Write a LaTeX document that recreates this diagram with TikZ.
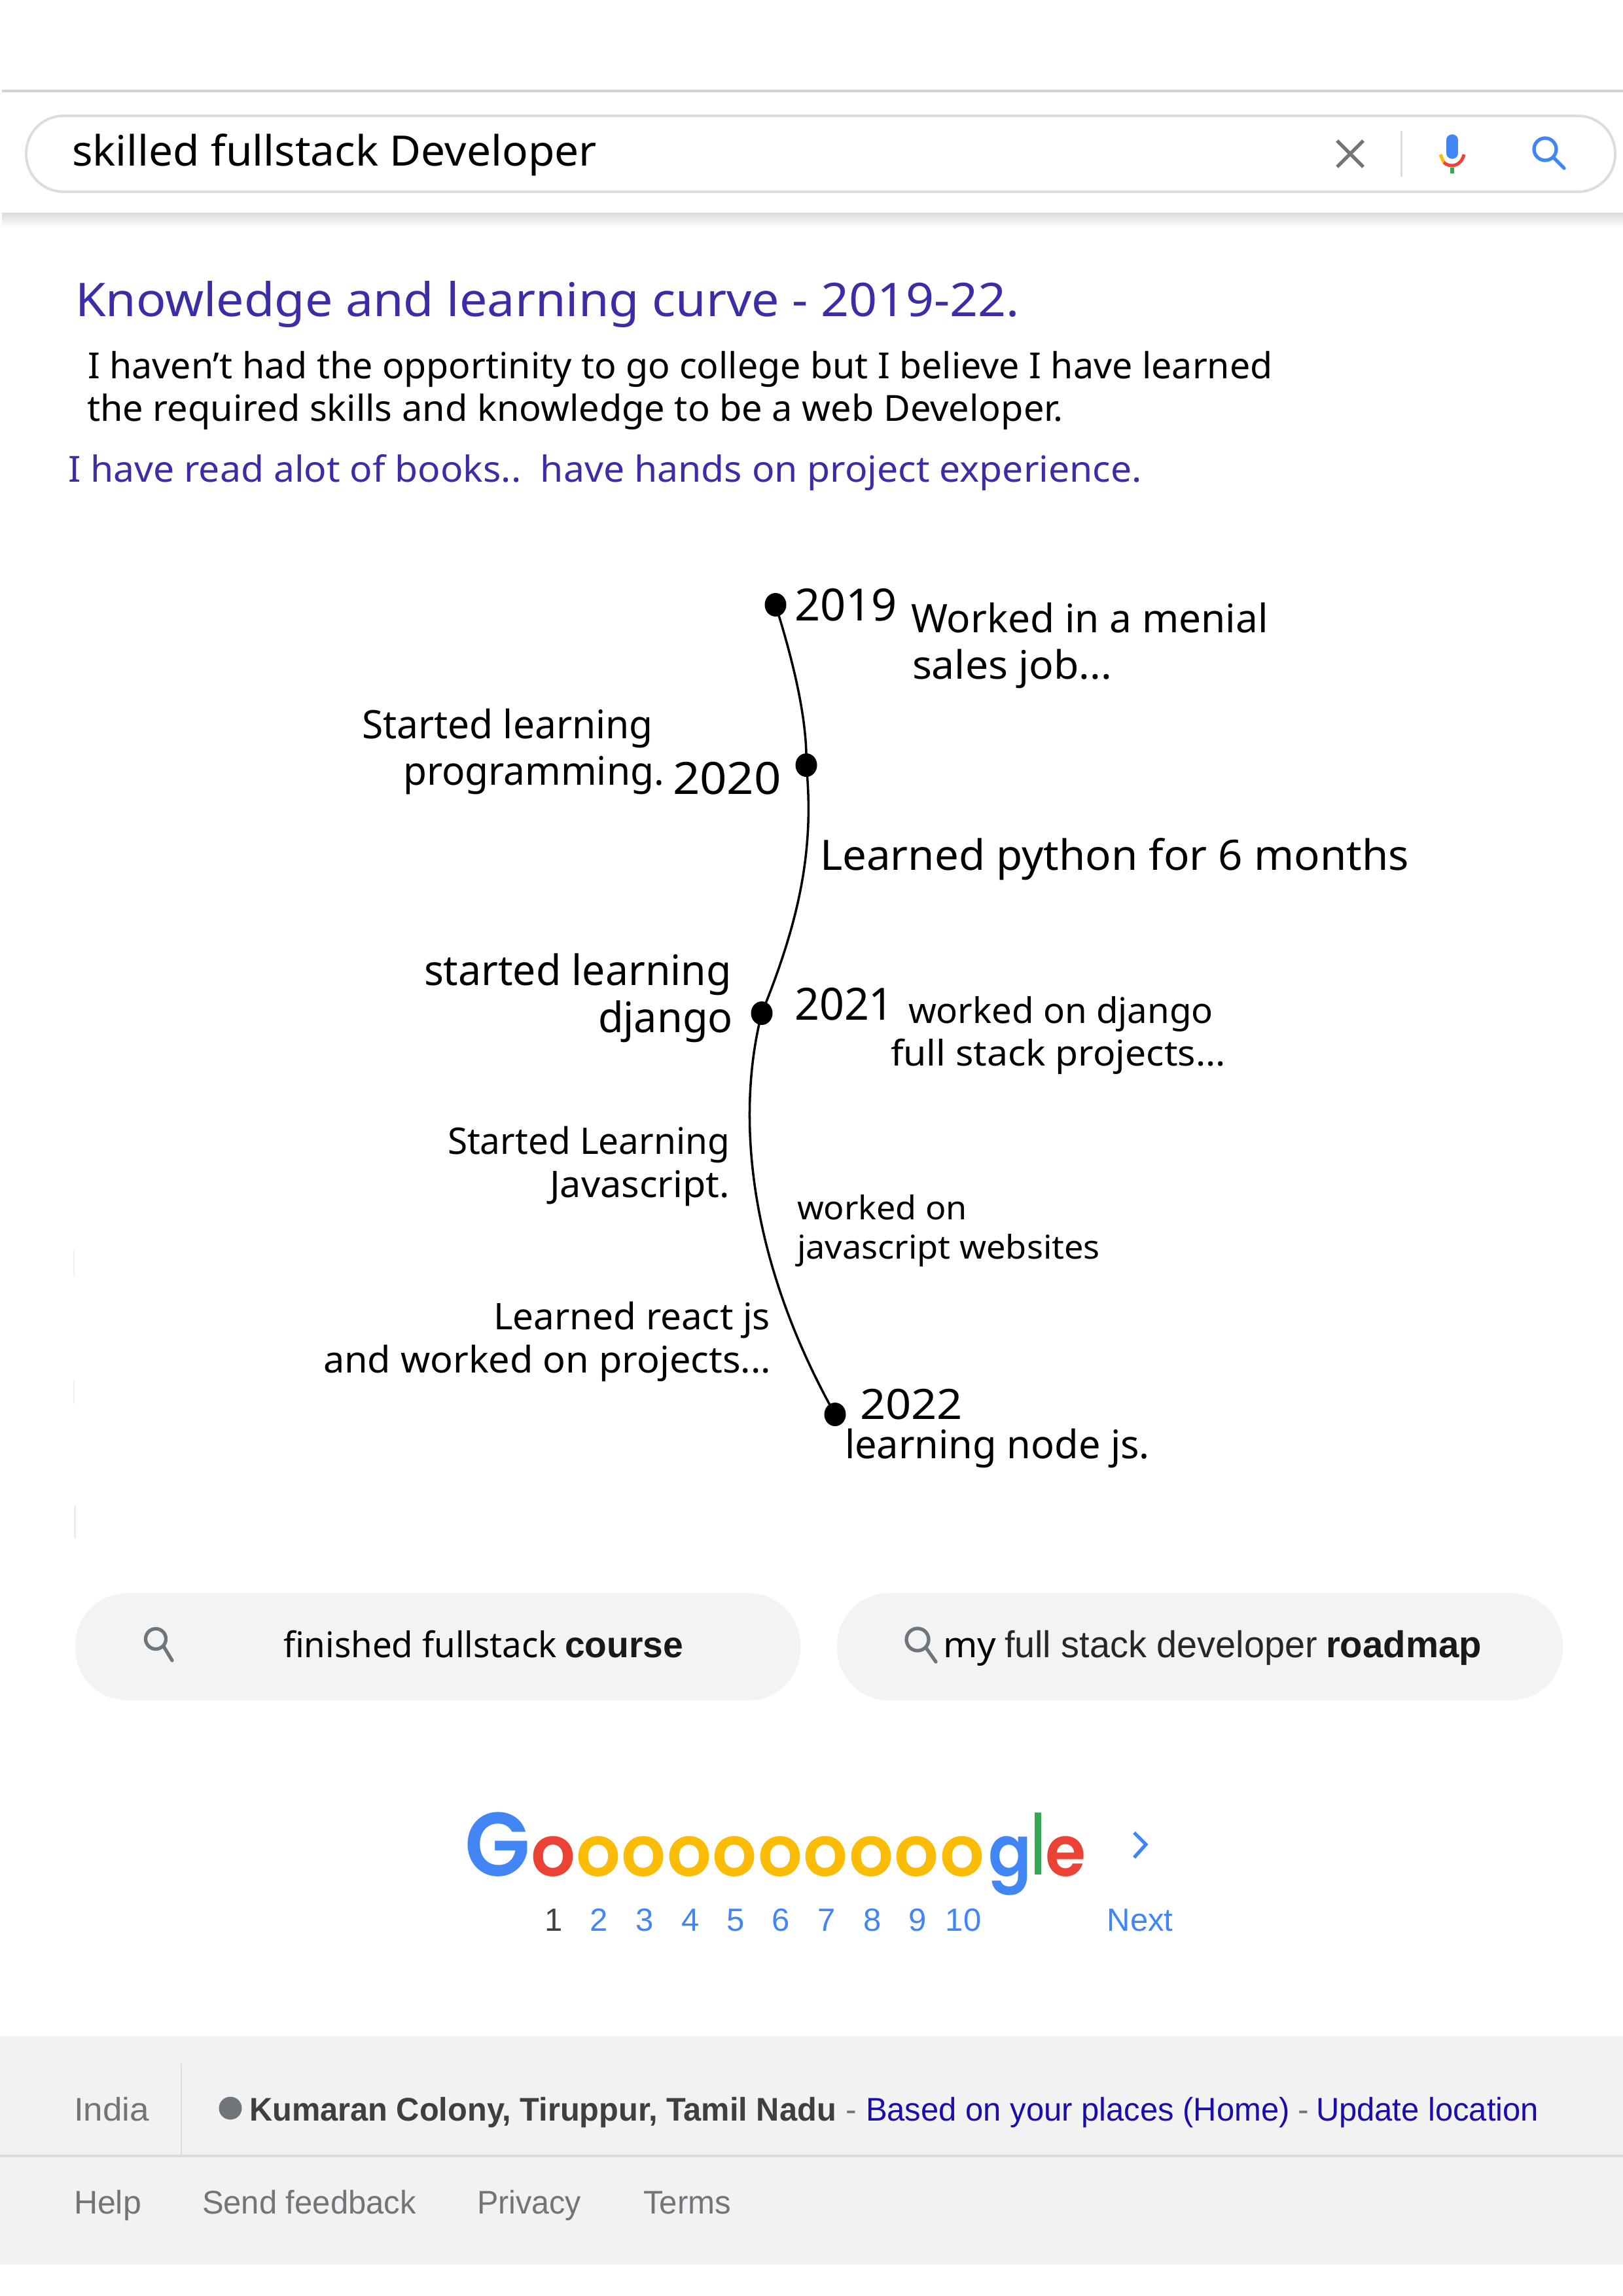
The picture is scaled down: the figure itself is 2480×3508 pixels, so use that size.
\documentclass[tikz,border=0pt]{standalone}
\usepackage{graphicx}
\usepackage{fontspec}
\setmainfont{Noto Sans}
\newfontfamily\arial{Liberation Sans}
\newfontfamily\logo{Poppins SemiBold}
\usetikzlibrary{calc,shapes.geometric}
\definecolor{titleblue}{HTML}{3B2DA6}
\definecolor{gblue}{HTML}{4285F4}
\definecolor{gred}{HTML}{EA4335}
\definecolor{gyellow}{HTML}{FBBC05}
\definecolor{ggreen}{HTML}{34A853}
\definecolor{ggrey}{HTML}{70757A}
\definecolor{chipfill}{HTML}{F1F3F4}
\definecolor{footfill}{HTML}{F2F2F2}
\definecolor{rulecol}{HTML}{DADCE0}
\definecolor{linkblue}{HTML}{1A0DAB}
\definecolor{darktxt}{HTML}{3C4043}
\newlength\fitwd
% #1 target width in px, #2 text
\newcommand{\fitw}[2]{\settowidth\fitwd{#2}\pgfmathsetmacro\fitr{#1*0.56906/\fitwd}\scalebox{\fitr}[1]{#2}}
\newcommand{\fs}[1]{\pgfmathsetmacro\fsz{#1*0.56906}\fontsize{\fsz pt}{\fsz pt}\selectfont}
\tikzset{
  txt/.style={inner sep=0pt,outer sep=0pt,anchor=base west},
  logoletter/.style={inner sep=0pt,outer sep=0pt,anchor=base},
  tldot/.style={ellipse,fill=black,inner sep=0pt,minimum width=0.66cm,minimum height=0.72cm},
  curve/.style={line width=2pt,black},
  lens/.style={line width=3pt,ggrey,line cap=round},
}
\begin{document}
\begin{tikzpicture}[x=0.02cm,y=-0.02cm]
\useasboundingbox (0,0) rectangle (2480,3508);
\fill[white] (0,0) rectangle (2480,3508);
% header
\fill[rulecol!90!gray] (3,137) rectangle (2480,141);
\shade[top color=black!14,bottom color=white] (3,325) rectangle (2480,348);
\draw[rulecol,line width=2.2pt,rounded corners=1.14cm] (40,177) rectangle (2468,293);
\node[txt,font=\fs{64}] (search) at (110,254) {\fitw{802}{skilled fullstack Developer}};
% search icons
\coordinate (xa) at (2043,215); \coordinate (xb) at (2083,255);
\coordinate (xc) at (2043,255); \coordinate (xd) at (2083,215);
\draw[ggrey,line width=3pt] (xa) -- (xb) (xc) -- (xd);
\coordinate (diva) at (2141,200); \coordinate (divb) at (2141,270);
\draw[rulecol,line width=1.7pt] (diva) -- (divb);
\coordinate (mica) at (2219,214); \coordinate (micb) at (2219,234);
\draw[gblue,line width=10pt,line cap=round] (mica) -- (micb);
\draw[gyellow,line width=2.8pt] (2201,236) -- (2206,248);
\draw[gred,line width=2.8pt] (2206,248) .. controls (2214,256) and (2232,256) .. (2237,236);
\coordinate (stema) at (2219,256); \coordinate (stemb) at (2219,265);
\draw[ggreen,line width=3pt] (stema) -- (stemb);
\node[circle,draw=gblue,line width=3pt,minimum width=0.68cm,inner sep=0pt] (slens) at (2361,228) {};
\coordinate (shandle) at (2390,257);
\draw[gblue,line width=3pt,line cap=round] (slens.south east) -- (shandle);
% heading
\node[txt,font=\fs{71},text=titleblue] (title) at (115,483) {\fitw{1443}{Knowledge and learning curve - 2019-22.}};
\node[txt,font=\fs{55}] (intro1) at (134,578) {\fitw{1811}{I haven’t had the opportinity to go college but I believe I have learned}};
\node[txt,font=\fs{55}] (intro2) at (133,643) {\fitw{1492}{the required skills and knowledge to be a web Developer.}};
\node[txt,font=\fs{55},text=titleblue] (intro3) at (104,736) {\fitw{1641}{I have read alot of books..\ \ have hands on project experience.}};
% faint marks at the left
\fill[black!5] (112,1910) rectangle (114,1950);
\fill[black!5] (112,2107) rectangle (114,2145);
\fill[black!7] (113,2300) rectangle (116,2350);
% timeline
\node[tldot] (d19) at (1185,924) {};
\node[tldot] (d20) at (1232,1169) {};
\node[tldot] (d21) at (1164,1548) {};
\node[tldot] (d22) at (1276,2161) {};
\draw[curve] (d19.center) .. controls (1212,1010) and (1234,1100) .. (d20.center)
  .. controls (1245,1300) and (1220,1410) .. (d21.center)
  .. controls (1130,1680) and (1130,1900) .. (d22.center);
\node[txt,font=\fs{68}] (y19) at (1214,948) {\fitw{157}{2019}};
\node[txt,font=\fs{60}] (w1) at (1392,966) {\fitw{546}{Worked in a menial}};
\node[txt,font=\fs{60}] (w2) at (1394,1037) {\fitw{305}{sales job...}};
\node[txt,font=\fs{60}] (s1) at (553,1128) {\fitw{445}{Started learning}};
\node[txt,font=\fs{60}] (s2) at (616,1199) {\fitw{399}{programming.}};
\node[txt,font=\fs{68}] (y20) at (1028,1213) {\fitw{166}{2020}};
\node[txt,font=\fs{64}] (py) at (1253,1329) {\fitw{900}{Learned python for 6 months}};
\node[txt,font=\fs{64}] (dj1) at (648,1505) {\fitw{470}{started learning}};
\node[txt,font=\fs{64}] (dj2) at (914,1577) {\fitw{206}{django}};
\node[txt,font=\fs{68}] (y21) at (1214,1558) {\fitw{152}{2021}};
\node[txt,font=\fs{54}] (wd1) at (1388,1563) {\fitw{466}{worked on django}};
\node[txt,font=\fs{54}] (wd2) at (1361,1628) {\fitw{512}{full stack projects...}};
\node[txt,font=\fs{56}] (js1) at (684,1763) {\fitw{431}{Started Learning}};
\node[txt,font=\fs{56}] (js2) at (840,1829) {\fitw{275}{Javascript.}};
\node[txt,font=\fs{50}] (wj1) at (1218,1863) {\fitw{260}{worked on}};
\node[txt,font=\fs{50}] (wj2) at (1218,1923) {\fitw{463}{javascript websites}};
\node[txt,font=\fs{56}] (rj1) at (754,2031) {\fitw{423}{Learned react js}};
\node[txt,font=\fs{56}] (rj2) at (494,2097) {\fitw{684}{and worked on projects...}};
\node[txt,font=\fs{64}] (y22) at (1314,2168) {\fitw{157}{2022}};
\node[txt,font=\fs{60}] (nd) at (1291,2228) {\fitw{466}{learning node js.}};
% chips
\fill[chipfill,rounded corners=1.6cm] (115,2434) rectangle (1223,2598);
\fill[chipfill,rounded corners=1.6cm] (1279,2434) rectangle (2388,2598);
\node[circle,draw=ggrey,line width=3pt,minimum width=0.62cm,inner sep=0pt] (lens1) at (238,2504) {};
\coordinate (h1) at (263,2537);
\draw[lens] (lens1.south east) -- (h1);
\node[circle,draw=ggrey,line width=3pt,minimum width=0.68cm,inner sep=0pt] (lens2) at (1402,2505) {};
\coordinate (h2) at (1430,2539);
\draw[lens] (lens2.south east) -- (h2);
\node[txt,font=\fs{54}] (c1a) at (433,2532) {\fitw{418}{finished fullstack}};
\node[txt,font=\arial\bfseries\fs{56},text=black!90] (c1b) at (863,2532) {\fitw{181}{course}};
\node[txt,font=\fs{54}] (c2a) at (1441,2532) {\fitw{81}{my}};
\node[txt,font=\arial\fs{57},text=black!85] (c2b) at (1535,2532) {\fitw{478}{full stack developer}};
\node[txt,font=\arial\bfseries\fs{57},text=black!90] (c2c) at (2026,2532) {\fitw{238}{roadmap}};
% logo
\tikzset{lg/.style={logoletter,font=\logo\fs{#1}}}
\node[lg=138,text=gblue] (lG) at (760,2866) {\fitw{100}{G}};
\node[lg=108,text=gred] (lo0) at (845,2866) {\fitw{68}{o}};
\foreach \i in {0,...,8}{
  \node[lg=108,text=gyellow] (ly\i) at ({914+69.5*\i},2866) {\fitw{68}{o}};
}
\node[lg=108,text=gblue] (lg) at (1543,2866) {\fitw{66}{g}};
\node[lg=128,text=ggreen] (ll) at (1586,2864) {\fitw{20}{l}};
\node[lg=108,text=gred] (le) at (1628,2866) {\fitw{62}{e}};
\coordinate (cha) at (1733,2800); \coordinate (chb) at (1751,2818); \coordinate (chc) at (1733,2838);
\draw[gblue,line width=3pt] (cha) -- (chb) -- (chc);
\tikzset{pg/.style={inner sep=0pt,outer sep=0pt,anchor=base,font=\arial\fs{49}}}
\node[pg,text=darktxt] (p1) at (846,2950) {1};
\node[pg,text=gblue] (p2) at (915,2950) {2};
\node[pg,text=gblue] (p3) at (985,2950) {3};
\node[pg,text=gblue] (p4) at (1055,2950) {4};
\node[pg,text=gblue] (p5) at (1124,2950) {5};
\node[pg,text=gblue] (p6) at (1193,2950) {6};
\node[pg,text=gblue] (p7) at (1263,2950) {7};
\node[pg,text=gblue] (p8) at (1333,2950) {8};
\node[pg,text=gblue] (p9) at (1402,2950) {9};
\node[pg,text=gblue] (p10) at (1472,2950) {10};
\node[pg,text=gblue] (pn) at (1742,2950) {Next};
% footer
\fill[footfill] (0,3111) rectangle (2480,3460);
\coordinate (fl1) at (0,3294); \coordinate (fl2) at (2480,3294);
\draw[rulecol,line width=2.3pt] (fl1) -- (fl2);
\coordinate (fv1) at (277,3153); \coordinate (fv2) at (277,3294);
\draw[rulecol,line width=1.1pt] (fv1) -- (fv2);
\tikzset{ft/.style={txt,font=\arial\fs{50}}}
\node[ft,text=ggrey] (india) at (113,3240) {\fitw{115}{India}};
\node[circle,fill=ggrey,minimum width=0.7cm,inner sep=0pt] (bullet) at (352,3221) {};
\node[ft,font=\arial\bfseries\fs{50},text=darktxt] (place) at (381,3240) {\fitw{897}{Kumaran Colony, Tiruppur, Tamil Nadu}};
\node[ft,text=ggrey] (dash1) at (1292,3240) {-};
\node[ft,text=linkblue] (home) at (1323,3240) {\fitw{648}{Based on your places (Home)}};
\node[ft,text=ggrey] (dash2) at (1983,3240) {-};
\node[ft,text=linkblue] (upd) at (2011,3240) {\fitw{340}{Update location}};
\node[ft,text=ggrey] (help) at (113,3382) {\fitw{103}{Help}};
\node[ft,text=ggrey] (feed) at (309,3382) {\fitw{327}{Send feedback}};
\node[ft,text=ggrey] (priv) at (729,3382) {\fitw{159}{Privacy}};
\node[ft,text=ggrey] (terms) at (983,3382) {\fitw{134}{Terms}};
\end{tikzpicture}
\end{document}
